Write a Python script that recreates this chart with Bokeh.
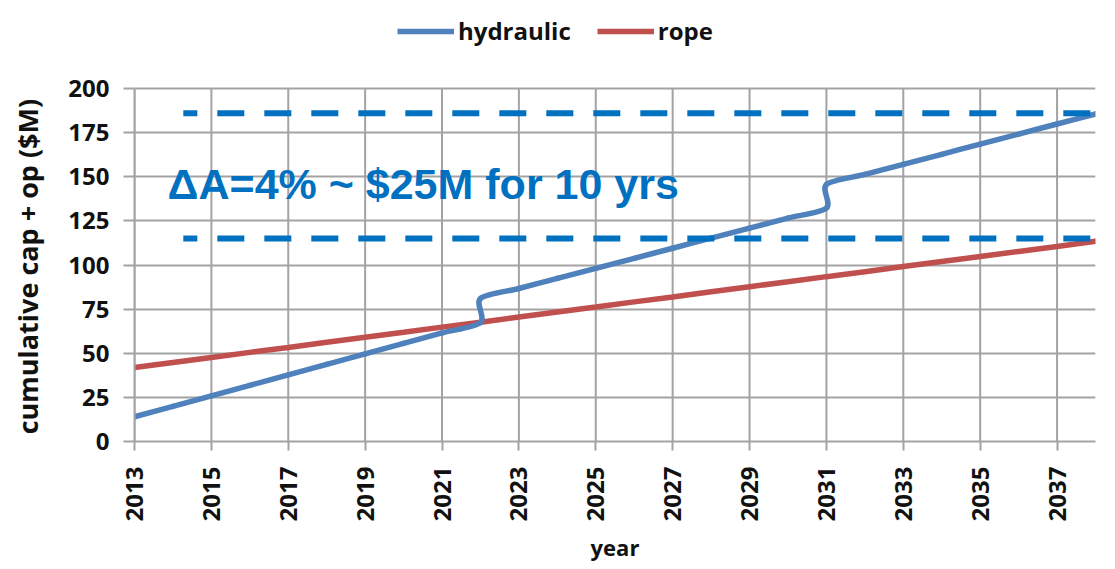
import math
from bokeh.plotting import figure
from bokeh.models import Range1d, FixedTicker, Legend, LegendItem, ColumnDataSource, Label
from bokeh.core.properties import value
from bokeh.embed import file_html
from bokeh.resources import INLINE

# ---- data ----
hyd_years = [2013, 2014, 2015, 2016, 2017, 2018, 2019, 2020, 2021, 2022,
             2022, 2023, 2024, 2025, 2026, 2027, 2028, 2029, 2030, 2031,
             2031, 2032, 2033, 2034, 2035, 2036, 2037, 2038]
hydraulic = [14.0, 19.9, 25.9, 31.8, 37.7, 43.7, 49.6, 55.6, 61.5, 67.4,
             81.0, 86.7, 92.4, 98.1, 103.8, 109.5, 115.2, 120.9, 126.6, 132.3,
             145.6, 151.3, 157.0, 162.7, 168.5, 174.2, 179.9, 185.6]
rope_years = list(range(2013, 2039))
rope = [41.9, 44.8, 47.6, 50.5, 53.3, 56.2, 59.1, 61.9, 64.8, 67.6,
        70.5, 73.4, 76.2, 79.1, 81.9, 84.8, 87.7, 90.5, 93.4, 96.2,
        99.1, 102.0, 104.8, 107.7, 110.5, 113.4]
x_ticks = [2013, 2015, 2017, 2019, 2021, 2023, 2025, 2027, 2029, 2031, 2033, 2035, 2037]
y_ticks = [0, 25, 50, 75, 100, 125, 150, 175, 200]
ref_levels = [186, 115]
ref_x_start = 2014.27
ref_x_end = 2038
note_text = "\u0394A=4% ~ $25M for 10 yrs"
note_x = 2013.86
note_y = 145.8
series_names = ["hydraulic", "rope"]
y_title = "cumulative cap + op ($M)"

BLUE = "#4f81bd"
RED = "#c0504d"
NOTE = "#0070c0"
GRID = "#a3a3a3"
FONT = "Open Sans"

# layout: the frame reaches the top of the figure so the legend sits inside it
AXIS_PX, TOP_TICK_PX = 441, 88
y_max = y_ticks[-1] * AXIS_PX / (AXIS_PX - TOP_TICK_PX)

p = figure(width=1115, height=569, output_backend="svg", toolbar_location=None,
           x_range=Range1d(x_ticks[0], ref_x_end), y_range=Range1d(0, y_max),
           min_border_left=134, min_border_right=20, min_border_top=0,
           min_border_bottom=128, background_fill_color="white",
           border_fill_color="white")
p.outline_line_color = None

# axes
for ax in (p.xaxis[0], p.yaxis[0]):
    ax.axis_line_color = GRID
    ax.axis_line_width = 2
    ax.major_tick_line_color = GRID
    ax.major_tick_line_width = 2
    ax.minor_tick_line_color = None
    ax.major_tick_in = 0
    ax.major_label_text_font = FONT
    ax.major_label_text_font_style = "bold"
    ax.major_label_text_color = "#111111"
    ax.axis_label_text_font = FONT
    ax.axis_label_text_font_style = "bold"
    ax.axis_label_text_color = "#111111"

yax = p.yaxis[0]
yax.bounds = (y_ticks[0], y_ticks[-1])
p.xaxis.ticker = FixedTicker(ticks=x_ticks)
p.yaxis.ticker = FixedTicker(ticks=y_ticks)
p.xaxis.major_tick_out = 9
p.yaxis.major_tick_out = 11
p.xaxis.major_label_orientation = math.pi / 2
p.xaxis.major_label_text_font_size = "24px"
p.yaxis.major_label_text_font_size = "24px"
p.xaxis.major_label_standoff = 16
p.yaxis.major_label_standoff = 14
p.xaxis.axis_label = "year"
p.xaxis.axis_label_text_font_size = "22px"
p.yaxis.axis_label_text_font_size = "27px"
p.xaxis.axis_label_standoff = 8
p.yaxis.axis_label_standoff = 19
# the frame extends above 200, so pad the (centred) title to sit beside the 0-200 axis
yax.axis_label = y_title + "\u00a0" * 13

# grid: horizontal lines from the grid model, vertical lines only up to 200
p.ygrid.ticker = FixedTicker(ticks=y_ticks)
p.ygrid.grid_line_color = GRID
p.ygrid.grid_line_width = 2
p.xgrid.visible = False
p.segment(x0=x_ticks, y0=[y_ticks[0]] * len(x_ticks), x1=x_ticks, y1=[y_ticks[-1]] * len(x_ticks),
          line_color=GRID, line_width=2)

# rope line
r_rope = p.line(rope_years, rope, line_color=RED, line_width=5.5, line_cap="round")

# hydraulic smoothed line (cubic Bezier segments through the data points)
T = 1 / 7
n = len(hyd_years)
bz = dict(x0=[], y0=[], x1=[], y1=[], cx0=[], cy0=[], cx1=[], cy1=[])
for i in range(n - 1):
    im = max(i - 1, 0)
    ip = min(i + 2, n - 1)
    bz["x0"].append(hyd_years[i]); bz["y0"].append(hydraulic[i])
    bz["x1"].append(hyd_years[i + 1]); bz["y1"].append(hydraulic[i + 1])
    bz["cx0"].append(hyd_years[i] + (hyd_years[i + 1] - hyd_years[im]) * T)
    bz["cy0"].append(hydraulic[i] + (hydraulic[i + 1] - hydraulic[im]) * T)
    bz["cx1"].append(hyd_years[i + 1] - (hyd_years[ip] - hyd_years[i]) * T)
    bz["cy1"].append(hydraulic[i + 1] - (hydraulic[ip] - hydraulic[i]) * T)
p.bezier(x0="x0", y0="y0", x1="x1", y1="y1", cx0="cx0", cy0="cy0", cx1="cx1", cy1="cy1",
         source=ColumnDataSource(bz), line_color=BLUE, line_width=5.5, line_cap="round")

# dashed reference lines
p.multi_line(xs=[[ref_x_start, ref_x_end] for _ in ref_levels],
             ys=[[lv, lv] for lv in ref_levels],
             line_color=NOTE, line_width=6, line_dash="27 20", line_dash_offset=13)

# annotation text
p.add_layout(Label(x=note_x, y=note_y, text=note_text, text_font="Liberation Sans",
                   text_font_style="bold", text_font_size="43px", text_color=NOTE,
                   text_baseline="alphabetic", text_align="left"))

# legend (proxy line renderers holding a single NaN point)
nan = float("nan")
leg_h = p.line(x=[nan], y=[nan], line_color=BLUE, line_width=5.5)
leg_r = p.line(x=[nan], y=[nan], line_color=RED, line_width=5.5)
legend = Legend(items=[LegendItem(label=series_names[0], renderers=[leg_h]),
                       LegendItem(label=series_names[1], renderers=[leg_r])],
                orientation="horizontal", location=(263, 394),
                glyph_width=57, glyph_height=20, label_standoff=4, spacing=26,
                padding=0, margin=0, border_line_color=None,
                background_fill_alpha=0,
                label_text_font=FONT, label_text_font_style="bold",
                label_text_font_size="24px", label_text_color="#111111")
p.add_layout(legend, "center")

open("out.html", "w").write(file_html(p, INLINE))
